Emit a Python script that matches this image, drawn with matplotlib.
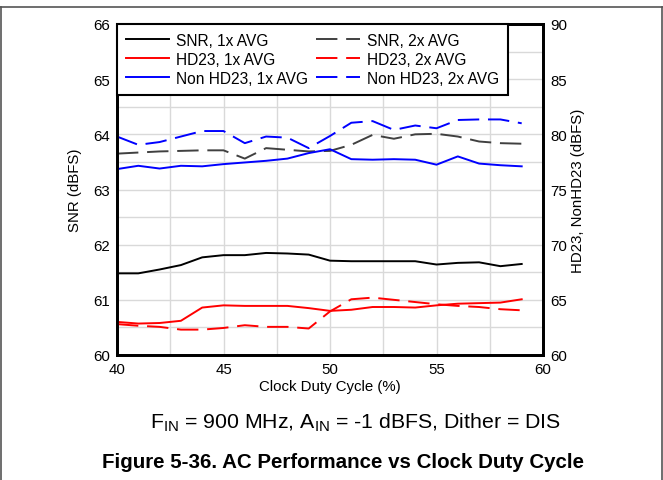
import matplotlib
matplotlib.use("Agg")
import matplotlib.pyplot as plt
from matplotlib.ticker import MultipleLocator
from matplotlib.lines import Line2D

plt.rcParams['font.family'] = ['Liberation Sans', 'DejaVu Sans']
plt.rcParams['mathtext.default'] = 'regular'

duty = [40, 41, 42, 43, 44, 45, 46, 47, 48, 49, 50, 51, 52, 53, 54, 55, 56, 57, 58, 59]

# SNR (left axis, dBFS)
snr_1x = [61.48, 61.48, 61.55, 61.63, 61.77, 61.81, 61.81, 61.85, 61.84, 61.82,
          61.71, 61.70, 61.70, 61.70, 61.70, 61.64, 61.67, 61.68, 61.61, 61.65]
snr_2x = [63.65, 63.67, 63.69, 63.70, 63.71, 63.71, 63.56, 63.75, 63.72, 63.69,
          63.70, 63.81, 63.99, 63.92, 64.00, 64.01, 63.96, 63.87, 63.84, 63.83]

# HD23 / NonHD23 (right axis, dBFS)
hd23_1x = [63.0, 62.85, 62.9, 63.1, 64.3, 64.5, 64.45, 64.45, 64.45, 64.25,
           64.0, 64.1, 64.35, 64.35, 64.3, 64.5, 64.65, 64.7, 64.75, 65.05]
hd23_2x = [62.8, 62.65, 62.55, 62.3, 62.3, 62.45, 62.7, 62.55, 62.55, 62.4,
           63.95, 65.05, 65.2, 65.0, 64.8, 64.6, 64.45, 64.35, 64.15, 64.05]
nonhd23_1x = [76.85, 77.15, 76.9, 77.15, 77.1, 77.3, 77.45, 77.6, 77.8, 78.3,
              78.65, 77.75, 77.7, 77.75, 77.7, 77.25, 78.0, 77.35, 77.2, 77.1]
nonhd23_2x = [79.8, 79.05, 79.3, 79.8, 80.3, 80.3, 79.2, 79.8, 79.7, 78.75,
              79.85, 81.05, 81.2, 80.4, 80.8, 80.55, 81.3, 81.35, 81.35, 81.0]

labels = ["SNR, 1x AVG", "HD23, 1x AVG", "Non HD23, 1x AVG",
          "SNR, 2x AVG", "HD23, 2x AVG", "Non HD23, 2x AVG"]

fig = plt.figure(figsize=(6.63, 4.81), dpi=100)
ax = fig.add_axes([117/663, 1 - 356/481, (543 - 117)/663, (356 - 25)/481])
ax2 = ax.twinx()

lw = 1.4
dash = (0, (11, 4.5))
ax.plot(duty, snr_1x, color='#000000', lw=lw)
ax.plot(duty, snr_2x, color='#404040', lw=lw, linestyle=dash)
ax2.plot(duty, hd23_1x, color='#ff0000', lw=lw)
ax2.plot(duty, hd23_2x, color='#ff0000', lw=lw, linestyle=dash)
ax2.plot(duty, nonhd23_1x, color='#0000ff', lw=lw)
ax2.plot(duty, nonhd23_2x, color='#0000ff', lw=lw, linestyle=dash)

ax.set_xlim(40, 60)
ax.set_ylim(60, 66)
ax2.set_ylim(60, 90)
ax.xaxis.set_major_locator(MultipleLocator(5))
ax.xaxis.set_minor_locator(MultipleLocator(2.5))
ax.yaxis.set_major_locator(MultipleLocator(1))
ax.yaxis.set_minor_locator(MultipleLocator(0.5))
ax2.yaxis.set_major_locator(MultipleLocator(5))
ax.grid(True, which='both', color='#d9d9d9', lw=1.0)
ax.set_axisbelow(True)

fs = 10.8
for a in (ax, ax2):
    a.tick_params(which='both', length=0, labelsize=fs, pad=5)
    for s in a.spines.values():
        s.set_linewidth(2.0)
        s.set_color('black')

ax.set_xlabel("Clock Duty Cycle (%)", fontsize=fs, labelpad=2)
ax.set_ylabel("SNR (dBFS)", fontsize=fs, labelpad=8)
ax2.set_ylabel("HD23, NonHD23 (dBFS)", fontsize=fs, labelpad=3)

handles = [
    Line2D([], [], color='#000000', lw=lw),
    Line2D([], [], color='#ff0000', lw=lw),
    Line2D([], [], color='#0000ff', lw=lw),
    Line2D([], [], color='#404040', lw=lw, linestyle=dash),
    Line2D([], [], color='#ff0000', lw=lw, linestyle=dash),
    Line2D([], [], color='#0000ff', lw=lw, linestyle=dash),
]
leg = ax2.legend(handles, labels, ncol=2, loc='upper left', bbox_to_anchor=(0, 1),
                 borderaxespad=0, fontsize=11.2, frameon=True, fancybox=False,
                 framealpha=1, edgecolor='black', handlelength=2.8,
                 handletextpad=0.45, columnspacing=0.5, labelspacing=0.25,
                 borderpad=0.57)
leg.get_frame().set_linewidth(1.5)

fig.text(355/663, 1 - 423/481,
         "F$_{IN}$ = 900 MHz, A$_{IN}$ = -1 dBFS, Dither = DIS",
         ha='center', va='center', fontsize=15.3)
fig.text(343/663, 1 - 463/481,
         "Figure 5-36. AC Performance vs Clock Duty Cycle",
         ha='center', va='center', fontsize=14.8, fontweight='bold')

# page frame lines
fig.add_artist(Line2D([0, 1], [1 - 8/481, 1 - 8/481], transform=fig.transFigure,
                      color='#555555', lw=1.2))
fig.add_artist(Line2D([1/663, 1/663], [0, 1 - 8/481], transform=fig.transFigure,
                      color='#555555', lw=1.2))
fig.add_artist(Line2D([661.5/663, 661.5/663], [0, 1 - 8/481], transform=fig.transFigure,
                      color='#555555', lw=1.2))

fig.savefig("out.png", dpi=100)
